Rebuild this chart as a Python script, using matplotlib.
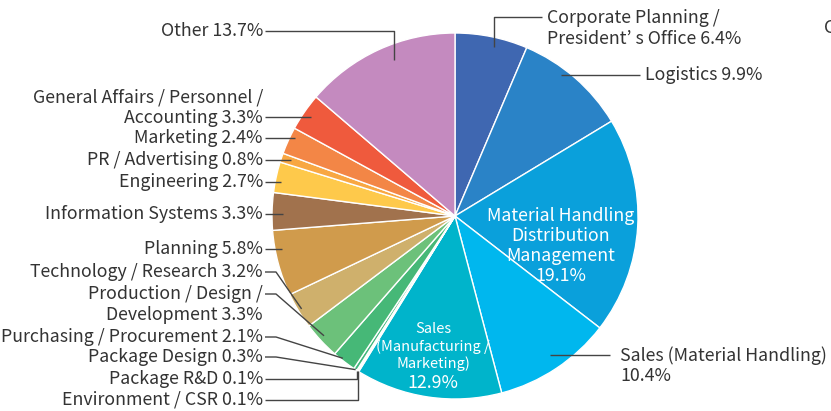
import numpy as np
import matplotlib
matplotlib.use("Agg")
import matplotlib.pyplot as plt

plt.rcParams['font.family'] = ['Noto Sans CJK JP', 'DejaVu Sans']

# ---- data ----
categories = [
    "Corporate Planning /\nPresident’ s Office",
    "Logistics",
    "Material Handling\nDistribution\nManagement",
    "Sales (Material Handling)",
    "Sales\n(Manufacturing /\nMarketing)",
    "Environment / CSR",
    "Package R&D",
    "Package Design",
    "Purchasing / Procurement",
    "Production / Design /\nDevelopment",
    "Technology / Research",
    "Planning",
    "Information Systems",
    "Engineering",
    "PR / Advertising",
    "Marketing",
    "General Affairs / Personnel /\nAccounting",
    "Other",
]
shares = [6.4, 9.9, 19.1, 10.4, 12.9, 0.1, 0.1, 0.3, 2.1, 3.3, 3.2, 5.8, 3.3, 2.7, 0.8, 2.4, 3.3, 13.7]
share_labels = ["6.4%", "9.9%", "19.1%", "10.4%", "12.9%", "0.1%", "0.1%", "0.3%", "2.1%", "3.3%",
                "3.2%", "5.8%", "3.3%", "2.7%", "0.8%", "2.4%", "3.3%", "13.7%"]
colors = ["#3F67B1", "#2A83C7", "#0AA0DB", "#00B7EE", "#00B4CB", "#2FB38A", "#3BB57F", "#40B67C",
          "#46B877", "#6CC17A", "#CFB06C", "#D09B4C", "#A1724D", "#FEC94B", "#F8A742", "#F38646",
          "#EF5A3D", "#C48ABF"]

# ---- layout ----
W, H = 831, 411
CX, CY, R = 455, 216, 183
TXT = "#333333"
LINE = "#444444"
FS = 12.8
LS = 1.15

fig = plt.figure(figsize=(W / 100, H / 100), dpi=100)
ax = fig.add_axes([0, 0, 1, 1])
wedges, _ = ax.pie(shares, colors=colors, startangle=-90, counterclock=True,
                   radius=R, center=(CX, CY), frame=True,
                   wedgeprops=dict(edgecolor="white", linewidth=1.0))
ax.set_xlim(0, W)
ax.set_ylim(H, 0)
ax.set_aspect("equal")
ax.axis("off")


def anchor(i, t=0.5, f=0.95):
    w = wedges[i]
    th = np.deg2rad(w.theta1 + t * (w.theta2 - w.theta1))
    return CX + f * R * np.cos(th), CY + f * R * np.sin(th)


def line(xs, ys):
    ax.plot(xs, ys, color=LINE, lw=1.0, solid_capstyle="butt")


LX = 263  # right edge of left labels

left = [
    # idx, y of leader line, y of text block centre, kind, t, f
    (17, 31, 31, "elbow_down", 0.57, 0.915),
    (16, 117, 107.5, "h", 0.52, 0.96),
    (15, 138, 138, "h", 0.75, 0.975),
    (14, 160, 160, "h", 0.85, 0.95),
    (13, 182, 182, "h", 0.48, 0.97),
    (12, 214, 214, "h", 0.48, 0.94),
    (11, 249, 249, "h", 0.72, 0.96),
    (10, 272, 272, "diag", 0.5, 0.98),
    (9, 294, 304.5, "diag", 0.54, 0.97),
    (8, 337, 337, "diag", 0.62, 0.99),
    (7, 357, 357, "diag", 0.4, 1.0),
    (6, 379, 379, "hv", 0.5, 1.0),
    (5, 400, 400, "hv", 0.5, 1.0),
]

for idx, yl, yt, kind, t, f in left:
    label = categories[idx] + " " + share_labels[idx]
    ax.text(LX, yt, label, ha="right", va="center", fontsize=FS, color=TXT,
            linespacing=LS)
    ax_, ay_ = anchor(idx, t, f)
    x0 = LX + 2
    if kind == "h":
        line([x0, ax_], [yl, yl])
    elif kind == "diag":
        line([x0, x0 + 11, ax_], [yl, yl, ay_])
    else:  # elbow: horizontal then vertical
        line([x0, ax_, ax_], [yl, yl, ay_])

# right labels
ax.text(547, 28.5, categories[0] + " " + share_labels[0], ha="left", va="center",
        fontsize=FS, color=TXT, linespacing=LS)
cx0, cy0 = anchor(0, 0.56, 0.95)
line([542, cx0, cx0], [17, 17, cy0])

lx0, ly0 = anchor(1, 0.39, 0.96)
ax.text(645, 75, categories[1] + " " + share_labels[1], ha="left", va="center",
        fontsize=FS, color=TXT)
line([640, lx0], [75, 75])

sx0, sy0 = anchor(3, 0.48, 0.92)
ax.text(620, 366, categories[3] + "\n" + share_labels[3], ha="left", va="center",
        fontsize=FS, color=TXT, linespacing=LS, clip_on=True)
line([610, sx0], [355, 355])

# inside labels
ax.text(561, 246, categories[2] + "\n" + share_labels[2], ha="center", va="center",
        fontsize=FS, color="white", linespacing=LS)
for k, txt in enumerate(categories[4].split("\n")):
    ax.text(433, 329 + 17.5 * k, txt, ha="center", va="center",
            fontsize=10.5, color="white")
ax.text(433, 383, share_labels[4], ha="center", va="center",
        fontsize=FS, color="white")

# cut-off text at the right edge (as in the reference)
ax.text(824, 28, "C", ha="left", va="center", fontsize=FS, color=TXT, clip_on=True)

fig.savefig("out.png", dpi=100)
